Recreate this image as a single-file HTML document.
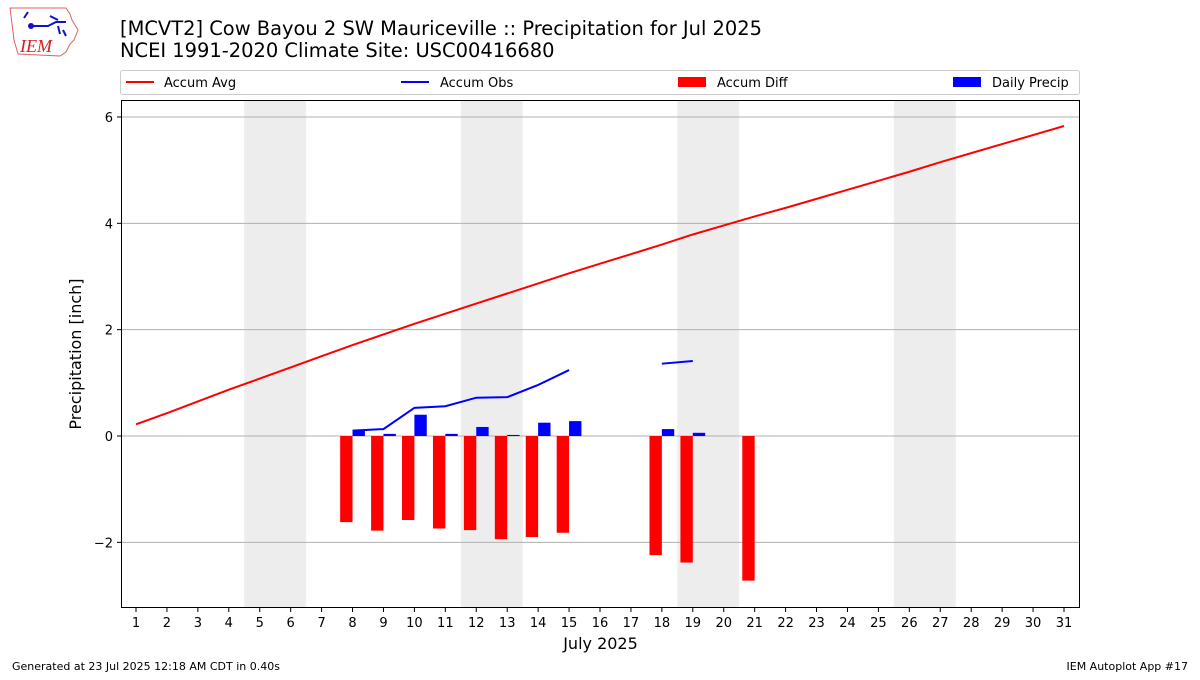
<!DOCTYPE html>
<html><head><meta charset="utf-8"><style>
body{margin:0;background:#fff;font-family:"Liberation Sans","DejaVu Sans",sans-serif;}
svg text{font-family:"DejaVu Sans","Liberation Sans",sans-serif;}
</style></head><body>
<svg id="c" width="1200" height="675" viewBox="0 0 1200 675" xmlns="http://www.w3.org/2000/svg">
<g>
<path d="M10,8 L66,8 L70,14 L72,20 L78,30 L74,40 L70,44 L66,52 L60,56 L18,54 L14,40 L12,24 Z" fill="none" stroke="#e06060" stroke-width="1"/>
<path d="M24,18 L28,12 M30,26 L48,26 L56,22 L66,22 M50,16 L58,20 M58,26 L60,34 M63,30 L66,36" stroke="#1010d0" stroke-width="2" fill="none"/>
<circle cx="31" cy="26" r="3" fill="#1010d0"/>
<text x="20" y="52" font-family="Liberation Serif,serif" font-style="italic" font-size="18" fill="#d02020" style="font-family:'Liberation Serif',serif">IEM</text>
</g>
<text x="120" y="35" font-size="19.45" fill="#000">[MCVT2] Cow Bayou 2 SW Mauriceville :: Precipitation for Jul 2025</text>
<text x="120" y="57" font-size="19.45" fill="#000">NCEI 1991-2020 Climate Site: USC00416680</text>
<g>
<rect x="120.5" y="70.5" width="959" height="24" fill="#fff" stroke="#ccc" rx="2"/>
<g><line x1="126" y1="82" x2="154" y2="82" stroke="red" stroke-width="2"/><text x="164" y="87" font-size="13">Accum Avg</text></g>
<g><line x1="401" y1="82" x2="429" y2="82" stroke="blue" stroke-width="2"/><text x="440" y="87" font-size="13">Accum Obs</text></g>
<g><rect x="678" y="77" width="28" height="10" fill="red"/><text x="717" y="87" font-size="13">Accum Diff</text></g>
<g><rect x="953" y="77" width="28" height="10" fill="blue"/><text x="992" y="87" font-size="13">Daily Precip</text></g>
</g>
<g id="plot"></g>
<text x="12" y="670" font-size="11">Generated at 23 Jul 2025 12:18 AM CDT in 0.40s</text>
<text x="1188" y="670" font-size="11" text-anchor="end">IEM Autoplot App #17</text>
</svg>
<script>
const days=[1,2,3,4,5,6,7,8,9,10,11,12,13,14,15,16,17,18,19,20,21,22,23,24,25,26,27,28,29,30,31];
const accumAvg=[0.22,0.43,0.65,0.87,1.08,1.29,1.50,1.71,1.91,2.11,2.30,2.49,2.68,2.87,3.06,3.24,3.42,3.60,3.79,3.96,4.13,4.29,4.46,4.63,4.80,4.97,5.15,5.32,5.49,5.66,5.83];
const accumObs=[null,null,null,null,null,null,null,0.10,0.13,0.53,0.56,0.72,0.73,0.96,1.24,null,null,1.36,1.41,null,null,null,null,null,null,null,null,null,null,null,null];
const accumDiff=[null,null,null,null,null,null,null,-1.62,-1.78,-1.58,-1.74,-1.77,-1.94,-1.90,-1.82,null,null,-2.24,-2.38,null,-2.72,null,null,null,null,null,null,null,null,null,null];
const dailyPrecip=[null,null,null,null,null,null,null,0.10,0.04,0.40,0.04,0.17,0.02,0.25,0.28,null,null,0.13,0.06,null,null,null,null,null,null,null,null,null,null,null,null];
const weekendStarts=[5,12,19,26];
const yTicks=[-2,0,2,4,6];
const NS="http://www.w3.org/2000/svg";
const L=121,R=1080,T=100,B=608;
const xs=d=>136+(d-1)*(1064-136)/30;
const ys=v=>436-v*53.17;
const g=document.getElementById('plot');
function mk(t,a,p){const e=document.createElementNS(NS,t);for(const k in a)e.setAttribute(k,a[k]);(p||g).appendChild(e);return e;}
weekendStarts.forEach(d=>{const r=mk('rect',{x:xs(d-0.5),y:T,width:xs(d+1.5)-xs(d-0.5),height:B-T,fill:'#ededed'});

});
yTicks.forEach(v=>{const l=mk('line',{x1:L,x2:R,y1:ys(v),y2:ys(v),stroke:'#b0b0b0','stroke-width':1});


mk('line',{x1:L-4,x2:L,y1:ys(v),y2:ys(v),stroke:'#000'});
const t=mk('text',{x:L-8,y:ys(v)+5,'font-size':13,'text-anchor':'end'});t.textContent=v===0?'0':(v<0?'\u2212'+(-v):v);

});
const bw=xs(1.4)-xs(1);
days.forEach((d,i)=>{
if(accumDiff[i]!=null){const v=accumDiff[i];const r=mk('rect',{x:xs(d)-bw,y:ys(Math.max(v,0)),width:bw,height:Math.abs(ys(v)-ys(0)),fill:'red'});

}
if(dailyPrecip[i]!=null){const v=dailyPrecip[i];const r=mk('rect',{x:xs(d),y:ys(v),width:bw,height:ys(0)-ys(v),fill:'blue'});

}
mk('line',{x1:xs(d),x2:xs(d),y1:B,y2:B+4,stroke:'#000'});
const t=mk('text',{x:xs(d),y:B+19,'font-size':13,'text-anchor':'middle'});t.textContent=d;

});
const pa=mk('path',{d:days.map((d,i)=>(i?'L':'M')+xs(d)+','+ys(accumAvg[i])).join(''),stroke:'red','stroke-width':2,fill:'none'});


let dstr='',pen=false;
days.forEach((d,i)=>{const v=accumObs[i];if(v==null){pen=false;return;}dstr+=(pen?'L':'M')+xs(d)+','+ys(v);pen=true;});
const po=mk('path',{d:dstr,stroke:'blue','stroke-width':2,fill:'none'});


const fr=mk('rect',{x:L+0.5,y:T+0.5,width:R-L-1,height:B-T-1,fill:'none',stroke:'#000','stroke-width':1});


const xt=mk('text',{x:(L+R)/2,y:649,'font-size':16,'text-anchor':'middle'});xt.textContent='July 2025';


const yt=mk('text',{x:81,y:354,'font-size':16,'text-anchor':'middle',transform:'rotate(-90 81 354)'});yt.textContent='Precipitation [inch]';


</script>
</body></html>
